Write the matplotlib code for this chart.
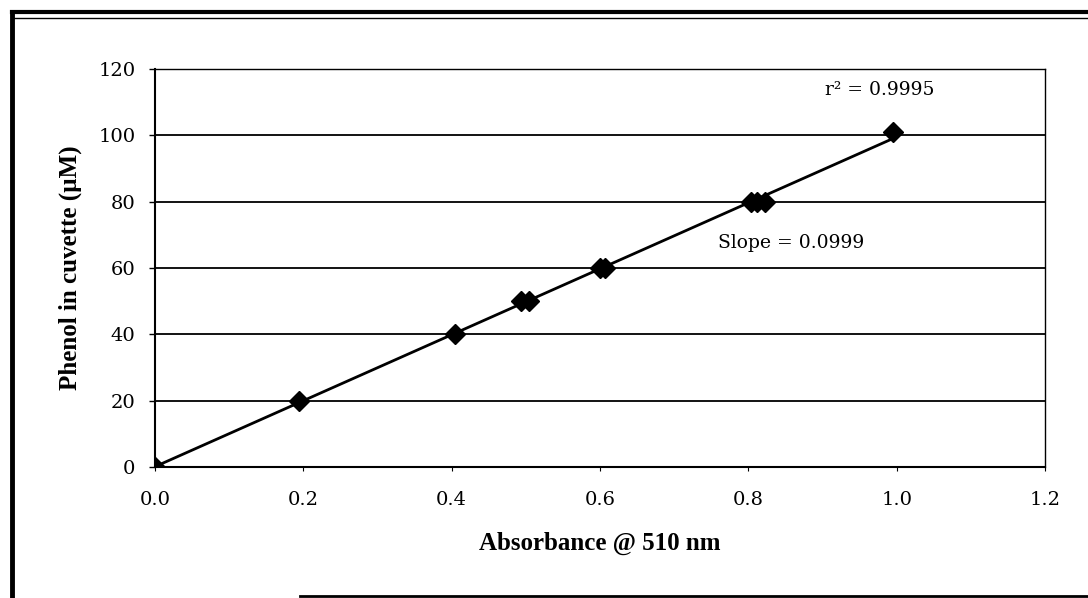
import numpy as np
import matplotlib.pyplot as plt
from matplotlib.lines import Line2D

# Phenol standard curve readings
absorbance = [0.0, 0.194, 0.404, 0.493, 0.504, 0.600, 0.607, 0.803, 0.812, 0.822, 0.995]
phenol_uM = [0, 20, 40, 50, 50, 60, 60, 80, 80, 80, 101]
r_squared = "0.9995"
slope_text = "0.0999"

plt.rcParams['font.family'] = ['DejaVu Serif']

fig = plt.figure(figsize=(10.88, 5.98), dpi=100)
ax = fig.add_axes([155 / 1088, 131 / 598, 890 / 1088, 398 / 598])

# linear fit drawn across the measured range
coef = np.polyfit(absorbance, phenol_uM, 1)
xfit = np.array([min(absorbance), max(absorbance)])
ax.plot(xfit, np.polyval(coef, xfit), color='black', lw=2, zorder=3)
ax.plot(absorbance, phenol_uM, 'D', color='black', markersize=10, zorder=4)

ax.set_xlim(0, 1.2)
ax.set_ylim(0, 120)
ax.set_xticks(np.arange(0, 1.21, 0.2))
ax.set_xticklabels([f'{v:.1f}' for v in np.arange(0, 1.21, 0.2)])
ax.set_yticks(range(0, 121, 20))
ax.yaxis.grid(True, color='black', lw=1.3)
ax.set_axisbelow(True)
ax.tick_params(axis='y', direction='out', length=4, width=1, pad=10, labelsize=14)
ax.tick_params(axis='x', direction='out', length=3, width=0.8, pad=14, labelsize=14)
for side in ['left', 'bottom']:
    ax.spines[side].set_linewidth(1.5)
for side in ['top', 'right']:
    ax.spines[side].set_linewidth(1.0)

bold_serif = ['Liberation Serif', 'DejaVu Serif']
ax.set_xlabel('Absorbance @ 510 nm', fontsize=18, fontweight='bold',
              family=bold_serif, labelpad=17)
ax.set_ylabel('Phenol in cuvette (µM)', fontsize=18, fontweight='bold',
              family=bold_serif, labelpad=12)

ax.text(0.903, 113.7, 'r² = ' + r_squared, fontsize=13.5, va='center')
ax.text(0.759, 67.5, 'Slope = ' + slope_text, fontsize=13.5, va='center')

# frame around the figure
fig.add_artist(Line2D([12 / 1088, 12 / 1088], [0, 1 - 12 / 598], color='black', lw=3.5))
fig.add_artist(Line2D([12 / 1088, 1], [1 - 12 / 598, 1 - 12 / 598], color='black', lw=3))
fig.add_artist(Line2D([12 / 1088, 1], [1 - 18 / 598, 1 - 18 / 598], color='black', lw=1))
fig.add_artist(Line2D([300 / 1088, 1], [2 / 598, 2 / 598], color='black', lw=2))

fig.savefig('out.png', dpi=100)
